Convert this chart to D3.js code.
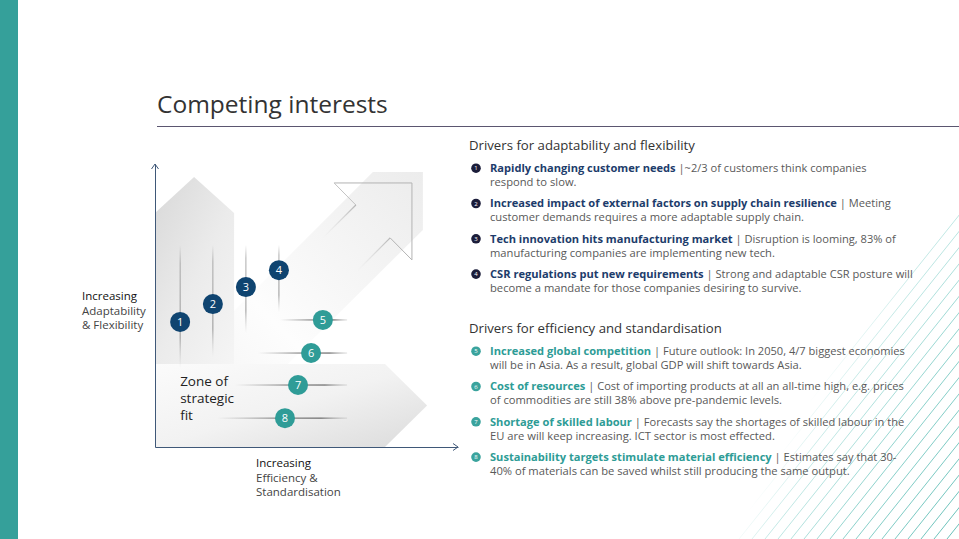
<!DOCTYPE html>
<html><head><meta charset="utf-8">
<script src="https://cdn.jsdelivr.net/npm/d3@7"></script>
<style>
body{margin:0;background:#fff;overflow:hidden;}
svg{display:block;font-family:"Open Sans","Noto Sans",sans-serif;}
</style>
</head><body>
<svg id="c" width="959" height="539"></svg>
<script>
// ---------- data ----------
const titleText = "Competing interests";
const yAxisLabel = ["Increasing", "Adaptability", "& Flexibility"];
const xAxisLabel = ["Increasing", "Efficiency &", "Standardisation"];
const zoneLabel = ["Zone of", "strategic", "fit"];
const headings = ["Drivers for adaptability and flexibility", "Drivers for efficiency and standardisation"];

const driverIds = [1, 2, 3, 4, 5, 6, 7, 8];
const driverGroup = ["adapt", "adapt", "adapt", "adapt", "eff", "eff", "eff", "eff"];
const driverTitles = [
  "Rapidly changing customer needs",
  "Increased impact of external factors on supply chain resilience",
  "Tech innovation hits manufacturing market",
  "CSR regulations put new requirements",
  "Increased global competition",
  "Cost of resources",
  "Shortage of skilled labour",
  "Sustainability targets stimulate material efficiency"
];
const driverDetails = [
  " |~2/3 of customers think companies",
  " | Meeting",
  " | Disruption is looming, 83% of",
  " | Strong and adaptable CSR posture will",
  " | Future outlook: In 2050, 4/7 biggest economies",
  " | Cost of importing products at all an all-time high, e.g. prices",
  " | Forecasts say the shortages of skilled labour in the",
  " | Estimates say that 30-"
];
const driverDetails2 = [
  "respond to slow.",
  "customer demands requires a more adaptable supply chain.",
  "manufacturing companies are implementing new tech.",
  "become a mandate for those companies desiring to survive.",
  "will be in Asia. As a result, global GDP will shift towards Asia.",
  "of commodities are still 38% above pre-pandemic levels.",
  "EU are will keep increasing. ICT sector is most effected.",
  "40% of materials can be saved whilst still producing the same output."
];

// driver positions on the two axes (0-100 scale)
const efficiencyScore   = [8.3, 19.1, 30.0, 40.9, 55.4, 51.5, 47.2, 42.9];
const adaptabilityScore = [44.2, 50.5, 56.5, 62.5, 44.9, 33.2, 21.9, 10.2];
// guide line extents (adapt: along adaptability axis, eff: along efficiency axis)
const guideStart = [27.9, 31.8, 40.3, 47.7, 41.3, 34.0, 26.4, 20.5];
const guideEnd   = [71.4, 71.4, 71.4, 71.4, 63.4, 63.4, 63.4, 63.4];

// background arrow shapes in axis units [efficiency, adaptability]
const upArrow    = [[0,0],[0,82.7],[12.9,95.4],[26.1,82.7],[26.1,0]];
const rightArrow = [[0,0],[0,29.3],[75.9,29.3],[89.8,14.7],[75.9,0]];
const diagBand   = [[71.9,97.2],[88.4,97.2],[88.4,76.7],[16.2,0],[0,0],[0,20.1]];
const diagHead   = [[59.1,93.3],[84.8,93.3],[84.8,66.1],[77.6,73.9]];
const diagHeadInner = [[59.1,93.3],[66.3,85.5]];
const diagShaft1 = [[66.3,85.5],[55.4,73.9]];
const diagShaft2 = [[77.6,73.9],[66.7,62.2]];

// decorative hatch lines (x where each meets the bottom edge)
const hatchStarts = [700,713,726,739,752,765,778,791,804,817,830,843,856,869,882,895,908,921,934,947];

// ---------- drawing ----------
const W = 959, H = 539;
const svg = d3.select("#c");
const defs = svg.append("defs");

const navy = "#0f4470", teal = "#2f9c97", navyText = "#1d3c6b";

function lg(id, x1, y1, x2, y2, stops, units) {
  const g = defs.append("linearGradient").attr("id", id)
    .attr("x1", x1).attr("y1", y1).attr("x2", x2).attr("y2", y2);
  if (units) g.attr("gradientUnits", units);
  stops.forEach(s => g.append("stop").attr("offset", s[0]).attr("stop-color", s[1]).attr("stop-opacity", s[2] == null ? 1 : s[2]));
}
lg("gUp", 0, 0, 0.6, 1, [[0, "#d8d8d8"], [0.5, "#ebebeb"], [1, "#f6f6f6"]]);
lg("gRight", 0, 0, 1, 1, [[0, "#fbfbfb"], [0.5, "#f2f2f2"], [1, "#dbdbdb"]]);
lg("gBand", 1, 0, 0, 1, [[0, "#ececec"], [0.3, "#f5f5f5"], [0.55, "#fdfdfd"], [1, "#efefef"]]);
lg("gV", 0, 0, 0, 1, [[0, "#9a9a9a", 0], [0.15, "#9a9a9a", 0.8], [0.75, "#8a8a8a", 0.9], [1, "#bbbbbb", 0]]);
lg("gH", 0, 0, 1, 0, [[0, "#888", 0], [0.45, "#777", 0.85], [0.8, "#666", 1], [1, "#aaa", 0.3]]);
lg("gShaft", 1, 0, 0, 1, [[0, "#b5b5b5", 1], [1, "#dddddd", 0]]);
lg("gHatch", 830, 365, 1000, 460, [[0, "#8ad3cd", 0], [0.15, "#8ad3cd", 0.55], [0.5, "#70c6bf", 0.9], [1, "#55b8b0", 1]], "userSpaceOnUse");

// left teal strip
svg.append("rect").attr("x", 0).attr("y", 0).attr("width", 18).attr("height", H).attr("fill", "#35a09a");

// hatch decoration
svg.append("g").selectAll("line").data(hatchStarts).join("line")
  .attr("x1", d => d).attr("y1", H)
  .attr("x2", d => d + 300).attr("y2", H - 375)
  .attr("stroke", "url(#gHatch)").attr("stroke-width", 0.9);

// title
svg.append("text").attr("x", 157).attr("y", 113).attr("font-size", 24.5).attr("fill", "#333")
  .attr("font-weight", 400).text(titleText);
svg.append("line").attr("x1", 157).attr("x2", W).attr("y1", 126.5).attr("y2", 126.5)
  .attr("stroke", "#5b5670").attr("stroke-width", 1);

// chart scales
const x = d3.scaleLinear().domain([0, 100]).range([155, 458]);
const y = d3.scaleLinear().domain([0, 100]).range([447, 164]);
const line = d3.line().x(d => x(d[0])).y(d => y(d[1]));
const poly = pts => line(pts) + "Z";

const bg = svg.append("g");
bg.append("path").attr("d", poly(diagBand)).attr("fill", "url(#gBand)");
bg.append("path").attr("d", poly(upArrow)).attr("fill", "url(#gUp)");
bg.append("path").attr("d", poly(rightArrow)).attr("fill", "url(#gRight)");
bg.append("path").attr("d", line(diagHead)).attr("fill", "none").attr("stroke", "#b3b3b3").attr("stroke-width", 1);
bg.append("path").attr("d", line(diagHeadInner)).attr("fill", "none").attr("stroke", "#c4c4c4").attr("stroke-width", 1);
[diagShaft1, diagShaft2].forEach(s => {
  bg.append("path").attr("d", line(s)).attr("fill", "none").attr("stroke", "url(#gShaft)").attr("stroke-width", 1.2);
});

// axes
const axisColor = "#3f5878";
const xAxis = svg.append("g").attr("transform", `translate(0,${y(0)})`)
  .call(d3.axisBottom(x).tickValues([]).tickSizeOuter(0));
const yAxis = svg.append("g").attr("transform", `translate(${x(0)},0)`)
  .call(d3.axisLeft(y).tickValues([]).tickSizeOuter(0));
[xAxis, yAxis].forEach(a => a.select(".domain").attr("stroke", axisColor).attr("stroke-width", 1));
svg.append("path").attr("d", `M${x(100) - 5},${y(0) - 3.5}L${x(100)},${y(0)}L${x(100) - 5},${y(0) + 3.5}`)
  .attr("fill", "none").attr("stroke", axisColor);
svg.append("path").attr("d", `M${x(0) - 3.5},${y(100) + 5}L${x(0)},${y(100)}L${x(0) + 3.5},${y(100) + 5}`)
  .attr("fill", "none").attr("stroke", axisColor);

// axis labels
svg.append("g").selectAll("text").data(yAxisLabel).join("text")
  .attr("x", 82).attr("y", (d, i) => 300 + i * 14.6).attr("font-size", 11.5)
  .attr("fill", (d, i) => i === 0 ? "#111" : "#444").text(d => d);
svg.append("g").selectAll("text").data(xAxisLabel).join("text")
  .attr("x", 256).attr("y", (d, i) => 467 + i * 14.6).attr("font-size", 11.5)
  .attr("fill", (d, i) => i === 0 ? "#111" : "#444").text(d => d);

// zone label
svg.append("g").selectAll("text").data(zoneLabel).join("text")
  .attr("x", x(efficiencyScore[0])).attr("y", (d, i) => 386 + i * 17).attr("font-size", 13.5)
  .attr("fill", "#222").text(d => d);

// guide lines + points
const drivers = driverIds.map((id, i) => ({
  id, group: driverGroup[i], ex: efficiencyScore[i], ay: adaptabilityScore[i],
  g0: guideStart[i], g1: guideEnd[i],
  title: driverTitles[i], d1: driverDetails[i], d2: driverDetails2[i]
}));

const gl = svg.append("g");
drivers.forEach(d => {
  if (d.group === "adapt") {
    gl.append("rect").attr("x", x(d.ex) - 0.5).attr("width", 1)
      .attr("y", y(d.g1)).attr("height", y(d.g0) - y(d.g1)).attr("fill", "url(#gV)");
  } else {
    gl.append("rect").attr("y", y(d.ay) - 0.6).attr("height", 1.2)
      .attr("x", x(d.g0)).attr("width", x(d.g1) - x(d.g0)).attr("fill", "url(#gH)");
  }
});

const pts = svg.append("g").selectAll("g").data(drivers).join("g")
  .attr("transform", d => `translate(${x(d.ex)},${y(d.ay)})`);
pts.append("circle").attr("r", 10).attr("fill", d => d.group === "adapt" ? navy : teal);
pts.append("text").attr("text-anchor", "middle").attr("dy", "0.36em").attr("font-size", 11)
  .attr("fill", "#fff").text(d => d.id);

// right-hand text panel
const panel = svg.append("g");
const headY = [150, 333];
headings.forEach((h, i) => {
  panel.append("text").attr("x", 469).attr("y", headY[i]).attr("font-size", 13.2)
    .attr("fill", "#333").text(h);
});
drivers.forEach((d, i) => {
  const gi = d.group === "adapt" ? 0 : 1;
  const k = gi === 0 ? i : i - 4;
  const by = headY[gi] + 22 + k * 35.3;
  const col = gi === 0 ? "#1b1d3a" : "#3aa39d";
  panel.append("circle").attr("cx", 476).attr("cy", by - 3.8).attr("r", 4.8).attr("fill", col);
  panel.append("text").attr("x", 476).attr("y", by - 3.8).attr("dy", "0.35em").attr("text-anchor", "middle")
    .attr("font-size", 6).attr("fill", "#fff").text(d.id);
  const t = panel.append("text").attr("x", 490).attr("y", by).attr("font-size", 11.1);
  t.append("tspan").attr("font-weight", 700).attr("fill", gi === 0 ? navyText : "#2e9c96").text(d.title);
  t.append("tspan").attr("fill", "#595959").attr("font-size", 11.1).text(d.d1);
  panel.append("text").attr("x", 490).attr("y", by + 14).attr("font-size", 11.2)
    .attr("fill", "#595959").text(d.d2);
});
</script>
</body></html>
